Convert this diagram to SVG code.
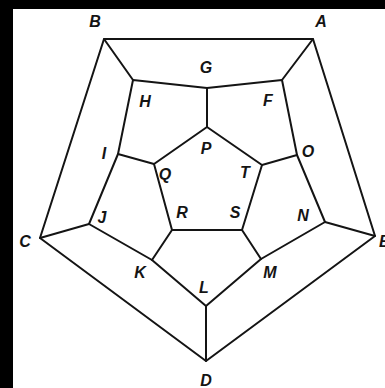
<svg xmlns="http://www.w3.org/2000/svg" width="385" height="388" viewBox="0 0 385 388">
<style>
.e{stroke:#141414;stroke-width:2;fill:none;stroke-linejoin:round;stroke-linecap:round}
.l{font-family:"Liberation Sans",Arial,sans-serif;font-style:italic;font-weight:bold;font-size:16px;fill:#141414;text-anchor:middle}
</style>
<rect x="0" y="0" width="385" height="388" fill="#ffffff"/>
<rect x="0" y="0" width="13" height="388" fill="#000"/>
<rect x="0" y="0" width="385" height="9" fill="#000"/>
<g id="connectors" class="e">
<polygon points="313,39 104,39 40,238 206,361 375,236"/>
<line x1="313" y1="39" x2="282" y2="80"/>
<line x1="104" y1="39" x2="133" y2="80"/>
<line x1="40" y1="238" x2="89" y2="224"/>
<line x1="206" y1="361" x2="206" y2="306"/>
<line x1="375" y1="236" x2="325" y2="222"/>
<polygon points="282,80 207,88 133,80 118,154 89,224 152,260 206,306 261,259 325,222 297,155"/>
<line x1="207" y1="88" x2="207" y2="127"/>
<line x1="118" y1="154" x2="154" y2="164"/>
<line x1="152" y1="260" x2="172" y2="230"/>
<line x1="261" y1="259" x2="242" y2="230"/>
<line x1="297" y1="155" x2="262" y2="165"/>
<polygon points="207,127 154,164 172,230 242,230 262,165"/>
</g>
<g id="A"><text class="l" x="321" y="27">A</text></g>
<g id="B"><text class="l" x="95" y="27">B</text></g>
<g id="C"><text class="l" x="25" y="247">C</text></g>
<g id="D"><text class="l" x="206" y="386">D</text></g>
<g id="E"><text class="l" x="379" y="247" style="text-anchor:start">E</text></g>
<g id="F"><text class="l" x="268" y="106">F</text></g>
<g id="G"><text class="l" x="206" y="73">G</text></g>
<g id="H"><text class="l" x="145" y="107">H</text></g>
<g id="I"><text class="l" x="104" y="159">I</text></g>
<g id="J"><text class="l" x="102" y="223">J</text></g>
<g id="K"><text class="l" x="140" y="278">K</text></g>
<g id="L"><text class="l" x="204" y="293">L</text></g>
<g id="M"><text class="l" x="270" y="278">M</text></g>
<g id="N"><text class="l" x="303" y="221">N</text></g>
<g id="O"><text class="l" x="308" y="157">O</text></g>
<g id="P"><text class="l" x="206" y="154">P</text></g>
<g id="Q"><text class="l" x="165" y="180">Q</text></g>
<g id="R"><text class="l" x="182" y="218">R</text></g>
<g id="S"><text class="l" x="235" y="218">S</text></g>
<g id="T"><text class="l" x="245" y="178">T</text></g>
</svg>
